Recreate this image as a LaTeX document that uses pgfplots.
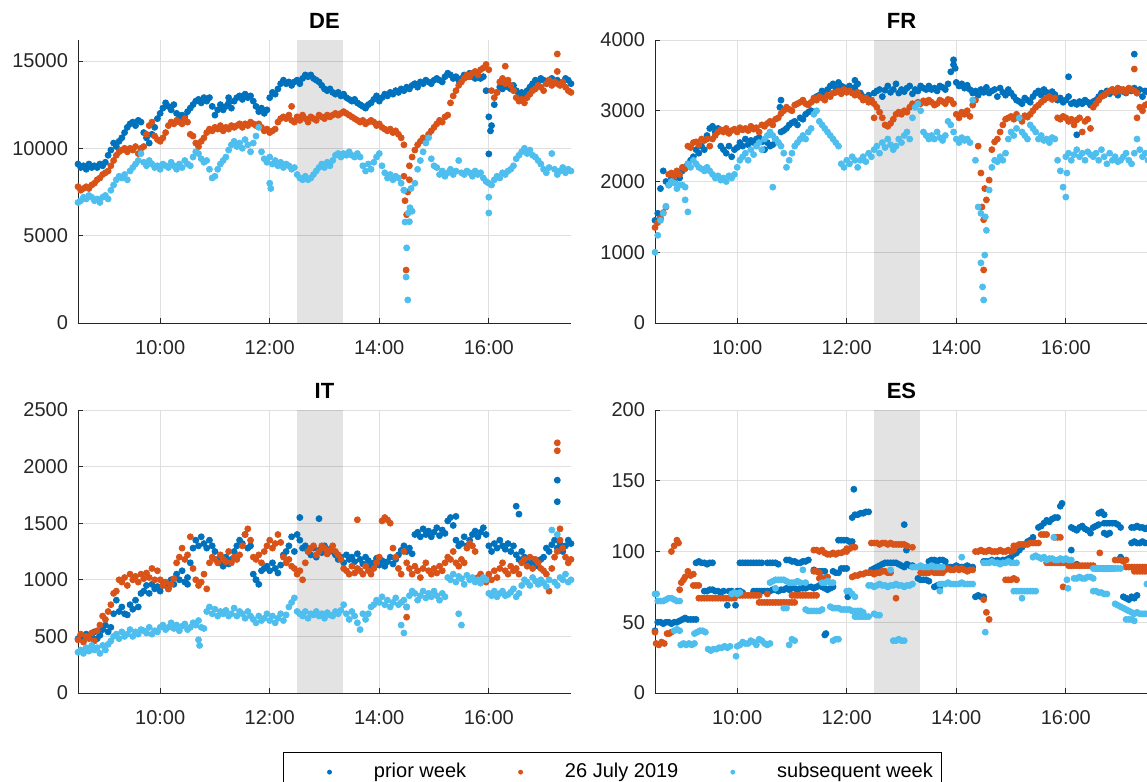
\documentclass[border=0pt]{standalone}
\usepackage{fontspec}
\setmainfont{Liberation Sans}
\usepackage{pgfplots}
\usepackage{pgfplotstable}
\pgfplotsset{compat=1.18}
\definecolor{c1}{RGB}{0,114,189}
\definecolor{c2}{RGB}{217,83,25}
\definecolor{c3}{RGB}{77,190,238}
\definecolor{axgray}{RGB}{38,38,38}
\definecolor{gridgray}{RGB}{223,223,223}
\pgfplotsset{
 panel/.style={
  scale only axis, width=246.5pt, height=141.5pt,
  xmin=8.5, xmax=17.5, ymin=0,
  xtick={10,12,14,16}, xticklabels={10:00,12:00,14:00,16:00},
  axis x line*=bottom, axis y line*=left,
  axis line style={-, draw=axgray, line width=0.4pt},
  tick align=inside, major tick length=2.5pt, tick style={axgray, line width=0.4pt},
  xmajorgrids, ymajorgrids, grid style={gridgray, line width=0.4pt},
  ticklabel style={font=\fontsize{10}{12}\selectfont, text=axgray},
  xticklabel style={yshift=-5pt},
  yticklabel style={xshift=-1.5pt},
  /pgf/number format/assume math mode=true,
  /pgf/number format/1000 sep={},
  scaled y ticks=false,
  title style={font=\bfseries\fontsize{11}{13}\selectfont, yshift=-4pt},
 },
 s1/.style={only marks, mark=*, mark size=1.5pt, color=c1, mark options={draw=none}},
 s2/.style={only marks, mark=*, mark size=1.5pt, color=c2, mark options={draw=none}},
 s3/.style={only marks, mark=*, mark size=1.5pt, color=c3, mark options={draw=none}},
 band/.style={draw=none, fill=black, fill opacity=0.11, forget plot},
}
\pgfplotstableread[header=false,row sep=\\]{
9100\\8900\\9000\\8800\\9100\\8900\\9000\\8900\\9100\\9000\\
9200\\9600\\9900\\10300\\10100\\10400\\10600\\10900\\11200\\11400\\
11500\\11300\\11600\\11500\\10900\\10600\\10300\\10800\\11200\\11700\\
12000\\12300\\12600\\12400\\12200\\12500\\12000\\11700\\11900\\11800\\
12100\\12300\\12500\\12700\\12800\\12600\\12900\\12700\\12900\\12400\\
11900\\12200\\12500\\12200\\12400\\12600\\12300\\12700\\12900\\13000\\
12800\\13100\\12900\\13000\\12700\\12400\\12100\\12300\\12000\\12200\\
12900\\13200\\13100\\13400\\13700\\13900\\13700\\13800\\13600\\13800\\
13900\\13700\\14000\\14200\\14100\\14200\\14000\\13900\\13800\\13600\\
13400\\13300\\13400\\13200\\13100\\13200\\13000\\13100\\12900\\12800\\
12700\\12800\\12600\\12500\\12400\\12300\\12500\\12600\\12800\\13000\\
12700\\12900\\13100\\13000\\13200\\13100\\13300\\13200\\13400\\13300\\
13500\\13400\\13600\\13700\\13500\\13800\\13700\\13900\\13800\\13700\\
13900\\14000\\13900\\13800\\14100\\14300\\14200\\14000\\14100\\13900\\
14000\\14200\\14100\\14300\\14100\\14000\\14200\\14000\\14100\\13300\\
11800\\11300\\12500\\13200\\13500\\13400\\13600\\13500\\13400\\13600\\
13300\\13100\\13200\\13000\\13300\\13500\\13700\\13900\\13800\\14000\\
13900\\13700\\13900\\14000\\13800\\13900\\13700\\13800\\14000\\13900\\13700\\
}\DEa
\pgfplotstableread[header=false,row sep=\\]{
7800\\7600\\7700\\7800\\7700\\7900\\8000\\8200\\8300\\8500\\
8600\\8700\\9000\\9300\\9600\\9800\\9900\\10000\\9800\\10000\\
9900\\10100\\9700\\10000\\10100\\10800\\11300\\11500\\10700\\10500\\
10400\\10600\\10900\\11300\\11500\\11400\\11600\\11500\\11400\\11700\\
11500\\10800\\10700\\10300\\10100\\10400\\10600\\10900\\11100\\11000\\
11200\\11100\\11300\\11000\\11200\\11100\\11300\\11200\\11300\\11400\\
11200\\11400\\11300\\11500\\11400\\11300\\11400\\11200\\11000\\11100\\
10900\\11000\\11100\\11500\\11700\\11800\\11700\\11900\\11600\\11500\\
11800\\11600\\11900\\11700\\11500\\11800\\11700\\11600\\11900\\11800\\
11700\\11900\\11800\\11900\\12000\\11900\\12000\\12100\\12000\\11900\\
11800\\11700\\11600\\11500\\11600\\11400\\11500\\11600\\11500\\11300\\
11400\\11200\\11100\\11000\\11100\\10900\\11000\\10800\\10600\\10200\\
6200\\8200\\9500\\9900\\10200\\10400\\10600\\10500\\10800\\11000\\
11200\\11400\\11600\\11500\\11800\\11900\\12600\\13000\\13300\\13600\\
13800\\14000\\14200\\14100\\14300\\14400\\14200\\14500\\14600\\14800\\
14500\\13300\\12900\\13200\\13800\\14000\\13700\\13900\\13600\\13300\\
12900\\12700\\12800\\12600\\12900\\13100\\13300\\13400\\13600\\13500\\
13300\\13700\\13900\\13600\\13800\\13700\\13600\\13800\\13500\\13300\\13200\\
}\DEb
\pgfplotstableread[header=false,row sep=\\]{
6900\\7000\\7200\\7100\\7300\\7200\\7000\\7100\\6900\\7200\\
7300\\7100\\7600\\7900\\8200\\8400\\8300\\8500\\8200\\8700\\
8900\\9100\\9300\\9700\\9200\\9000\\9300\\9100\\8900\\9000\\
8800\\9100\\9000\\8900\\9200\\9000\\8800\\9100\\8900\\9300\\
9100\\9000\\9500\\9800\\9700\\9400\\9200\\9300\\8800\\8300\\
8400\\8800\\9100\\9300\\9500\\9900\\10200\\10400\\10100\\10300\\
10000\\10500\\10200\\9800\\10300\\10700\\11200\\9800\\9400\\9200\\
9500\\9100\\9300\\9000\\9200\\8900\\9100\\9000\\8800\\8900\\
8500\\8300\\8200\\8400\\8200\\8300\\8500\\8700\\8900\\9100\\
8900\\9200\\9000\\9300\\9600\\9700\\9500\\9700\\9600\\9800\\
9600\\9500\\9700\\9500\\9000\\8700\\9100\\8800\\9200\\9500\\
9700\\9000\\8600\\8300\\8500\\8200\\8400\\8300\\8000\\7600\\
4300\\5800\\6400\\8000\\8800\\9300\\9800\\10300\\10600\\9400\\
9000\\8900\\8500\\8700\\8400\\8600\\8800\\8500\\8700\\9300\\
8600\\8500\\8700\\8600\\8400\\8700\\8500\\8600\\8300\\8100\\
8000\\7900\\8200\\8400\\8300\\8600\\8500\\8700\\8800\\9000\\
9400\\9600\\9800\\10000\\9700\\9900\\9600\\9500\\9300\\9100\\
8800\\8600\\8900\\9700\\8800\\8500\\8700\\8900\\8600\\8800\\8700\\
}\DEc
\pgfplotstableread[header=false,row sep=\\]{
1450\\1550\\1900\\2150\\2000\\1950\\2050\\2000\\2100\\2050\\
2150\\2200\\2250\\2300\\2350\\2450\\2400\\2500\\2450\\2650\\
2750\\2780\\2700\\2750\\2500\\2450\\2400\\2500\\2350\\2450\\
2480\\2550\\2500\\2600\\2520\\2580\\2550\\2600\\2620\\2560\\
2450\\2550\\2500\\2520\\2600\\2550\\2700\\2720\\2750\\2800\\
2830\\2850\\2800\\2900\\2880\\2950\\2980\\3000\\3150\\3200\\
3220\\3280\\3250\\3300\\3350\\3380\\3320\\3400\\3350\\3330\\
3300\\3350\\3280\\3330\\3380\\3250\\3200\\3180\\3220\\3150\\
3250\\3280\\3300\\3200\\3290\\3350\\3260\\3300\\3380\\3250\\
3300\\3270\\3320\\3350\\3240\\3300\\3280\\3350\\3320\\3300\\
3350\\3300\\3320\\3280\\3350\\3330\\3300\\3380\\3550\\3650\\
3400\\3350\\3380\\3320\\3360\\3300\\3250\\3280\\3220\\3300\\
3260\\3330\\3250\\3280\\3300\\3200\\3320\\3260\\3220\\3300\\
3250\\3200\\3150\\3130\\3100\\3180\\3150\\3120\\3200\\3250\\
3280\\3220\\3300\\3260\\3200\\3270\\3230\\3150\\3180\\3120\\
3150\\3200\\3100\\3120\\3090\\3130\\3100\\3150\\3120\\3080\\
3130\\3150\\3200\\3250\\3220\\3280\\3240\\3300\\3260\\3220\\
3300\\3270\\3250\\3300\\3280\\3320\\3250\\3300\\3200\\3280\\3260\\
}\FRa
\pgfplotstableread[header=false,row sep=\\]{
1350\\1420\\1480\\1560\\1640\\2100\\2120\\2080\\2150\\2100\\
2200\\2180\\2500\\2480\\2550\\2560\\2520\\2600\\2580\\2600\\
2500\\2600\\2650\\2700\\2730\\2700\\2750\\2680\\2720\\2740\\
2700\\2760\\2730\\2750\\2720\\2780\\2740\\2760\\2700\\2800\\
2780\\2820\\2850\\2800\\2880\\2900\\2960\\3000\\3050\\3020\\
3000\\3080\\3100\\3120\\3150\\3100\\3080\\3120\\3180\\3150\\
3200\\3180\\3150\\3220\\3200\\3250\\3260\\3280\\3240\\3300\\
3260\\3280\\3250\\3220\\3260\\3200\\3150\\3180\\3120\\3150\\
3100\\3050\\2980\\2900\\2800\\2780\\2820\\2880\\2950\\2980\\
2950\\3000\\2980\\3050\\3100\\3080\\3120\\3100\\3140\\3110\\
3150\\3120\\3080\\3100\\3150\\3130\\3100\\3160\\3150\\3100\\
2950\\2900\\2980\\2950\\3000\\2920\\3080\\3150\\2500\\2120\\
1460\\1740\\2020\\2450\\2560\\2600\\2700\\2800\\2880\\2900\\
2920\\2880\\2950\\2900\\2850\\2930\\2910\\2950\\3000\\3050\\
3080\\3120\\3150\\3180\\3200\\3160\\3180\\2900\\2880\\2920\\
2900\\2850\\2880\\2800\\2870\\2900\\2700\\2850\\2880\\2750\\
3050\\3100\\3150\\3200\\3220\\3250\\3280\\3300\\3260\\3320\\
3280\\3300\\3260\\3320\\3300\\3280\\3250\\3050\\3000\\3080\\3100\\
}\FRb
\pgfplotstableread[header=false,row sep=\\]{
1000\\1240\\1450\\1550\\1650\\1950\\2000\\1980\\1900\\1950\\
1950\\1920\\2250\\2200\\2300\\2250\\2200\\2180\\2150\\2200\\
2150\\2100\\2050\\2080\\2020\\2050\\2000\\2080\\2050\\2100\\
2200\\2300\\2350\\2400\\2300\\2450\\2380\\2500\\2550\\2450\\
2600\\2650\\2700\\2650\\2600\\2550\\2500\\2400\\2200\\2300\\
2400\\2500\\2550\\2600\\2650\\2600\\2700\\2750\\2950\\3000\\
2850\\2800\\2750\\2700\\2650\\2600\\2550\\2500\\2250\\2200\\
2300\\2250\\2350\\2300\\2200\\2300\\2350\\2280\\2400\\2350\\
2450\\2500\\2400\\2550\\2480\\2600\\2520\\2450\\2500\\2600\\
2550\\2650\\2700\\2600\\2900\\3050\\3100\\3000\\2700\\2650\\
2600\\2650\\2600\\2700\\2620\\2580\\2650\\2850\\2800\\2700\\
2600\\2550\\2620\\2580\\2600\\2550\\3150\\2300\\1640\\850\\
325\\1310\\1880\\2200\\2300\\2280\\2350\\2300\\2400\\2600\\
2700\\2650\\2750\\2900\\2700\\2650\\2600\\2800\\2750\\2700\\
2600\\2650\\2580\\2600\\2550\\2620\\2600\\2300\\2150\\1920\\
2350\\2400\\2300\\2380\\2450\\2350\\2400\\2300\\2420\\2380\\
2350\\2400\\2300\\2450\\2350\\2250\\2400\\2300\\2350\\2280\\
2300\\2350\\2400\\2300\\2250\\2400\\2600\\2450\\2350\\2400\\2300\\
}\FRc
\pgfplotstableread[header=false,row sep=\\]{
480\\510\\470\\520\\490\\500\\540\\480\\510\\560\\
600\\540\\580\\700\\820\\720\\760\\700\\690\\780\\
740\\820\\760\\880\\900\\950\\880\\960\\920\\940\\
900\\980\\950\\920\\1000\\960\\1050\\1000\\1080\\980\\
1020\\1150\\1280\\1350\\1300\\1380\\1320\\1280\\1350\\1300\\
1250\\1180\\1150\\1120\\1200\\1140\\1180\\1250\\1300\\1350\\
1320\\1400\\1280\\1300\\1050\\1000\\960\\1080\\1100\\1120\\
1080\\1150\\1100\\1060\\1130\\1220\\1250\\1300\\1380\\1250\\
1400\\1350\\1280\\1300\\1250\\1220\\1280\\1200\\1260\\1240\\
1300\\1230\\1270\\1250\\1220\\1180\\1200\\1150\\1220\\1180\\
1200\\1160\\1230\\1180\\1140\\1200\\1170\\1120\\1150\\1190\\
1130\\1170\\1120\\1160\\1200\\1140\\1180\\1220\\1260\\1300\\
1250\\1280\\1230\\1400\\1420\\1380\\1450\\1400\\1430\\1380\\
1420\\1460\\1390\\1440\\1410\\1520\\1550\\1480\\1350\\1300\\
1320\\1380\\1300\\1350\\1400\\1430\\1380\\1420\\1460\\1400\\
1300\\1250\\1320\\1280\\1350\\1300\\1270\\1320\\1250\\1300\\
1220\\1180\\1250\\1200\\1150\\1130\\1180\\1150\\1120\\1180\\
1200\\1280\\1250\\1310\\1350\\1280\\1320\\1250\\1300\\1350\\1320\\
}\ITa
\pgfplotstableread[header=false,row sep=\\]{
470\\520\\450\\500\\480\\530\\460\\550\\600\\680\\
650\\720\\780\\880\\900\\1000\\980\\1020\\950\\1050\\
1000\\1030\\980\\1050\\1010\\1060\\1020\\1100\\1000\\1080\\
1000\\950\\980\\920\\960\\1010\\1150\\1200\\1280\\1180\\
1220\\1380\\1100\\1000\\950\\980\\1050\\920\\1150\\1200\\
1180\\1150\\1220\\1180\\1160\\1250\\1150\\1200\\1180\\1220\\
1300\\1400\\1450\\1350\\1200\\1180\\1220\\1150\\1250\\1300\\
1350\\1280\\1320\\1400\\1330\\1200\\1150\\1180\\1120\\1100\\
1050\\1080\\1000\\1150\\1250\\1280\\1300\\1220\\1250\\1300\\
1280\\1230\\1260\\1300\\1250\\1220\\1180\\1100\\1080\\1050\\
1120\\1060\\1100\\1080\\1050\\1120\\1080\\1050\\1100\\1150\\
1200\\1520\\1550\\1530\\1500\\1280\\1200\\1100\\1050\\1250\\
1150\\1100\\1050\\1120\\1080\\1020\\1100\\1150\\1080\\1050\\
1100\\1060\\1120\\1080\\1150\\1200\\1180\\1250\\1150\\1120\\
1180\\1150\\1280\\1320\\1300\\1250\\1020\\1050\\1000\\980\\
1050\\1000\\1080\\1020\\1100\\1150\\1080\\1050\\1120\\1080\\
1100\\1050\\1150\\1180\\1120\\1200\\1100\\1180\\1150\\1100\\
1080\\1050\\900\\1100\\1200\\1250\\1350\\1280\\1200\\1150\\1180\\
}\ITb
\pgfplotstableread[header=false,row sep=\\]{
360\\380\\350\\400\\370\\420\\380\\400\\350\\420\\
380\\430\\460\\500\\520\\480\\540\\500\\520\\560\\
500\\540\\520\\560\\550\\530\\580\\520\\550\\540\\
580\\600\\560\\580\\620\\570\\600\\550\\590\\610\\
560\\580\\620\\600\\640\\580\\570\\720\\760\\700\\
740\\680\\720\\700\\730\\680\\700\\750\\680\\720\\
700\\660\\720\\680\\650\\620\\680\\640\\660\\700\\
640\\680\\620\\660\\700\\640\\690\\760\\800\\840\\
720\\700\\680\\720\\660\\700\\690\\720\\680\\700\\
660\\710\\690\\680\\720\\700\\730\\780\\700\\650\\
720\\680\\620\\560\\700\\650\\700\\760\\780\\820\\
800\\850\\780\\820\\760\\800\\840\\780\\800\\820\\
760\\860\\900\\880\\820\\860\\900\\840\\880\\850\\
900\\860\\820\\880\\850\\1020\\1000\\1050\\980\\1030\\
1010\\960\\1040\\1000\\1020\\980\\1000\\970\\1020\\1000\\
880\\860\\900\\850\\880\\900\\860\\870\\890\\920\\
850\\880\\950\\1000\\980\\950\\1020\\990\\960\\1000\\
970\\940\\1000\\1440\\980\\950\\1020\\1000\\1050\\980\\1000\\
}\ITc
\begin{document}
\begin{tikzpicture}
\useasboundingbox (0,0) rectangle (573.5pt,391pt);
% ---------------- DE
\begin{axis}[panel, at={(39pt,229.5pt)}, anchor=south west, ymax=16200, ytick={0,5000,10000,15000}, title={DE}]
\addplot[s1] table[x expr=8.5+0.05*\coordindex, y index=0]{\DEa};
\addplot[s1,forget plot] coordinates {(17.25,16250)(16,9680)(16.03,11000)(11.25,12900)};
\addplot[s2] table[x expr=8.5+0.05*\coordindex, y index=0]{\DEb};
\addplot[s2,forget plot] coordinates {(14.45,8400)(14.47,7000)(14.49,3030)(14.52,7500)(14.55,9000)(17.25,15400)(17.25,14400)(16.3,14700)(12.4,12400)};
\addplot[s3] table[x expr=8.5+0.05*\coordindex, y index=0]{\DEc};
\addplot[s3,forget plot] coordinates {(14.45,7600)(14.47,5780)(14.49,2630)(14.52,1320)(14.53,6300)(14.56,6600)(14.58,7700)(16,7200)(16,6300)(12,8000)(12.02,7700)};
\addplot[band] coordinates {(12.5,16200)(13.3333,16200)} \closedcycle;
\end{axis}
% ---------------- FR
\begin{axis}[panel, at={(327.5pt,229.5pt)}, anchor=south west, ymax=4000, ytick={0,1000,2000,3000,4000}, title={FR}]
\addplot[s1] table[x expr=8.5+0.05*\coordindex, y index=0]{\FRa};
\addplot[s1,forget plot] coordinates {(10.8,3150)(10.78,3050)(12.15,3430)(13.95,3720)(13.98,3600)(16.2,2660)(16.05,3480)(17.25,3800)};
\addplot[s2] table[x expr=8.5+0.05*\coordindex, y index=0]{\FRb};
\addplot[s2,forget plot] coordinates {(14.47,1640)(14.5,750)(14.52,1900)(12.5,2900)(17.25,3590)(17.3,2900)};
\addplot[s3] table[x expr=8.5+0.05*\coordindex, y index=0]{\FRc};
\addplot[s3,forget plot] coordinates {(14.45,1550)(14.48,510)(14.52,960)(14.53,1500)(16,1780)(16.02,2120)(9.05,1740)(9.1,1570)(10.65,1920)};
\addplot[band] coordinates {(12.5,4000)(13.3333,4000)} \closedcycle;
\end{axis}
% ---------------- IT
\begin{axis}[panel, at={(39pt,44.5pt)}, anchor=south west, ymax=2500, ytick={0,500,1000,1500,2000,2500}, title={IT}]
\addplot[s1] table[x expr=8.5+0.05*\coordindex, y index=0]{\ITa};
\addplot[s1,forget plot] coordinates {(12.55,1550)(12.9,1540)(15.4,1560)(16.5,1650)(16.55,1580)(17.25,1880)(17.25,1690)(11.75,1000)(10.5,960)};
\addplot[s2] table[x expr=8.5+0.05*\coordindex, y index=0]{\ITb};
\addplot[s2,forget plot] coordinates {(17.25,2210)(17.25,2140)(13.6,1530)(14.5,670)(14.5,760)(17.3,1450)};
\addplot[s3] table[x expr=8.5+0.05*\coordindex, y index=0]{\ITc};
\addplot[s3,forget plot] coordinates {(10.7,470)(10.72,420)(14.45,530)(14.4,600)(15.5,600)(15.45,700)(17.25,1400)};
\addplot[band] coordinates {(12.5,2500)(13.3333,2500)} \closedcycle;
\end{axis}
% ---------------- ES
\begin{axis}[panel, at={(327.5pt,44.5pt)}, anchor=south west, ymax=200, ytick={0,50,100,150,200}, title={ES},
  legend columns=3,
  legend style={at={(-0.0862,-0.2085)}, anchor=north, draw=black, line width=0.4pt, fill=white,
    inner xsep=2.5pt, inner ysep=3.5pt, font=\fontsize{10}{12}\selectfont,
    /tikz/every even column/.append style={column sep=4.5pt}},
  legend cell align=left,
  legend image code/.code={\path (-20.5pt,0pt) (20pt,0pt); \fill (0pt,0pt) circle (1pt);}]
\addplot[s1] coordinates {(8.5,44)
(8.55,50)(8.6,50)(8.65,49)(8.7,50)(8.75,50)(8.8,49)(8.85,50)(8.9,50)(8.95,51)(9,52)(9.05,53)(9.1,52)(9.15,52)(9.2,52)(9.25,52)
(9.25,92)(9.3,93)(9.35,92)(9.4,92)(9.45,91)(9.5,92)(9.55,92)
(9.4,72)(9.45,72)(9.5,73)(9.55,73)(9.6,72)(9.65,72)(9.7,71)(9.75,72)(9.85,72)(9.9,72)(9.95,71)(10,72)(10.05,72)(10.1,71)(10.3,72)(10.35,72)(10.4,72)(10.45,72)(10.5,72)(10.55,72)(10.6,72)(10.65,73)(10.7,73)(10.75,72)(10.8,73)(10.85,73)(10.9,74)(10.95,73)(11,74)(11.05,74)(11.1,73)(11.15,74)(11.2,74)(11.25,74)(11.3,75)(11.35,75)(11.4,74)
(9.82,62)(9.97,62)
(10.05,92)(10.1,92)(10.15,92)(10.2,92)(10.25,92)(10.3,92)(10.35,92)(10.4,92)(10.45,92)
(10.55,92)(10.6,92)(10.65,92)(10.7,92)(10.75,91)
(10.9,94)(10.95,94)(11,93)(11.05,93)(11.1,92)(11.15,92)(11.2,93)(11.25,93)(11.3,94)
(11.4,87)(11.45,86)(11.5,86)(11.55,86)(11.6,86)
(11.45,75)(11.5,76)(11.55,75)(11.6,74)(11.65,73)(11.7,74)(11.75,75)
(11.6,41)(11.62,42)
(11.75,86)(11.8,85)(11.85,85)(11.9,88)(11.95,88)(12,88)
(11.85,108)(11.9,108)(11.95,108)(12,108)(12.05,107)(12.1,107)
(12.02,68)(12.04,72)
(12.1,124)(12.15,126)(12.2,126)(12.25,127)(12.3,127)(12.35,128)(12.4,128)
(12.13,144)
(12.45,87)(12.5,88)(12.55,89)(12.6,90)(12.65,91)(12.7,92)(12.75,92)(12.8,92)(12.85,92)(12.9,92)(12.95,91)(13,90)(13.05,89)
(13.05,119)(13.09,101)
(13.1,91)(13.15,90)(13.2,90)
(13.3,81)(13.35,80)(13.4,80)(13.45,80)(13.5,79)
(13.5,93)(13.55,94)(13.6,94)(13.65,93)(13.7,94)(13.75,94)(13.8,93)
(13.6,75)(13.65,76)(13.7,75)
(13.85,89)(13.9,89)(13.95,89)(14,90)(14.05,89)(14.1,89)(14.15,89)(14.2,90)(14.25,89)(14.3,89)
(14.35,68)(14.4,69)(14.45,68)(14.5,68)
(14.5,93)(14.55,93)(14.6,93)(14.65,94)(14.7,93)(14.75,94)(14.8,93)(14.85,94)(14.9,94)(14.95,95)(15,96)(15.05,98)(15.1,99)(15.15,101)(15.2,103)(15.25,105)(15.3,107)(15.35,108)(15.4,110)
(15.5,117)(15.55,118)(15.6,120)(15.65,122)(15.7,121)(15.75,123)(15.8,124)(15.85,124)
(15.9,132)(15.93,134)
(16.1,101)(16.2,91)
(16.1,117)(16.15,116)(16.2,115)(16.25,117)(16.3,118)(16.35,116)(16.4,115)(16.5,117)(16.55,118)(16.6,119)
(16.45,113)
(16.6,127)(16.65,128)(16.7,126)
(16.7,120)(16.75,120)(16.8,120)(16.85,120)(16.9,120)(16.95,119)(17,117)
(16.7,113)(16.75,112)(16.8,113)
(17,96)
(17.05,68)(17.1,67)(17.15,66)(17.2,68)(17.25,67)(17.3,69)
(17.2,117)(17.25,117)(17.3,118)(17.35,117)(17.4,117)(17.45,116)(17.5,117)
(17.2,106)(17.25,107)(17.3,106)(17.35,106)(17.4,107)(17.45,106)(17.5,106)};
\addlegendentry{prior week}
\addplot[s2] coordinates {(8.5,43)(8.52,35)(8.57,34)(8.62,36)(8.67,35)(8.72,42)(8.76,42)(8.8,43)
(8.8,100)(8.85,104)(8.9,108)(8.93,106)
(8.95,73)(8.98,78)(9.02,80)(9.05,82)(9.1,86)(9.15,83)(9.2,84)
(9.2,76)(9.25,76)(9.3,76)
(9.3,67)(9.35,67)(9.4,67)(9.45,67)(9.5,67)(9.55,67)(9.6,67)(9.65,67)(9.7,67)(9.75,67)(9.8,67)(9.85,67)(9.9,67)(9.95,67)
(10,69)(10.05,69)(10.1,69)(10.15,69)(10.2,69)(10.25,69)(10.3,69)(10.35,69)(10.4,69)
(10.4,64)(10.45,64)(10.5,64)(10.55,64)(10.6,64)(10.65,64)(10.7,64)(10.75,64)(10.8,64)(10.85,64)(10.9,64)(10.95,64)(11,64)(11.05,64)
(10.55,70)
(11,69)(11.05,69)(11.1,69)(11.15,69)(11.2,69)(11.25,69)(11.3,69)(11.35,69)(11.4,69)(11.45,69)
(11.4,86)(11.45,86)(11.5,85)
(11.5,81)(11.55,81)(11.6,81)(11.65,82)
(11.4,101)(11.45,101)(11.5,100)(11.55,101)(11.6,99)(11.65,98)(11.7,98)(11.75,99)(11.8,98)(11.85,99)(11.9,99)(11.95,100)(12,100)
(12,102)(12.05,102)(12.1,103)(12.15,103)
(12.1,82)(12.15,83)(12.2,83)(12.25,84)(12.3,84)(12.35,85)(12.4,85)(12.45,85)(12.5,84)(12.55,85)(12.6,85)(12.65,86)(12.7,86)(12.75,85)(12.8,85)
(12.45,106)(12.5,106)(12.55,106)(12.6,105)(12.65,106)(12.7,106)(12.75,105)(12.8,106)(12.85,105)(12.9,105)(12.95,105)(13,105)(13.05,105)(13.1,104)(13.2,103)
(12.9,67)
(13.35,85)(13.4,85)(13.45,85)(13.5,85)(13.55,86)(13.6,85)(13.65,85)(13.7,85)(13.75,85)
(13.8,87)(13.85,88)(13.9,87)(13.95,87)(14,88)(14.05,87)(14.1,88)(14.15,87)(14.2,86)(14.25,87)(14.3,87)
(14.35,100)(14.4,100)(14.45,101)(14.5,100)(14.55,100)(14.6,101)(14.65,100)(14.7,100)(14.75,100)(14.8,101)(14.85,100)(14.9,100)(14.95,101)(15,100)(15.05,101)
(14.9,80)(14.95,80)(15,80)(15.05,81)(15.1,80)
(14.5,66)(14.55,57)(14.6,52)
(15.05,104)(15.1,104)(15.15,105)(15.2,105)(15.25,105)(15.3,105)(15.35,106)(15.4,106)(15.45,106)(15.5,106)
(15.55,112)(15.6,112)(15.65,112)
(15.8,110)(15.85,110)(15.9,110)
(15.65,92)(15.7,92)(15.75,92)(15.8,92)(15.85,92)(15.9,92)(15.95,92)(16,92)
(16.05,90)(16.1,90)(16.15,90)(16.2,90)(16.25,90)(16.3,90)(16.35,90)(16.4,90)(16.45,90)(16.5,90)
(15.95,75)(16.62,99)
(16.55,88)(16.6,88)(16.65,88)(16.7,88)(16.75,88)(16.8,88)(16.85,88)
(16.9,94)(16.95,94)(17,94)(17.05,93)(17.1,94)
(17.1,89)(17.15,89)(17.2,89)(17.25,89)(17.3,89)(17.35,89)(17.4,89)(17.45,89)(17.5,89)
(17.25,86)(17.3,86)(17.35,86)(17.4,86)(17.45,86)(17.5,86)};
\addlegendentry{26 July 2019}
\addplot[s3] coordinates {(8.5,70)(8.53,70)
(8.55,65)(8.6,65)(8.65,65)(8.7,66)(8.75,67)(8.8,67)(8.85,66)(8.9,65)(8.95,65)
(8.85,44)(8.9,45)(8.95,44)
(8.97,34)(9.02,35)(9.07,34)(9.12,35)(9.17,34)(9.22,35)
(9.22,42)(9.27,43)(9.32,44)(9.37,44)(9.42,43)
(9.47,31)(9.52,30)(9.57,31)(9.62,31)(9.67,32)(9.72,32)(9.77,33)(9.82,32)(9.87,33)
(9.9,70)(9.95,71)(10,70)(10.05,71)
(9.98,26)
(10,33)(10.05,34)(10.1,36)(10.15,35)(10.2,35)(10.25,37)(10.3,36)(10.35,34)(10.4,38)(10.45,37)(10.5,35)(10.55,34)(10.6,35)
(10.95,34)(11,38)(11.05,37)
(10.6,78)(10.65,79)(10.7,80)(10.75,80)(10.8,80)(10.85,80)(10.9,79)(10.95,78)(11,78)
(10.7,74)(10.85,60)(10.9,60)
(11.05,78)(11.1,79)(11.15,78)(11.2,87)(11.25,78)
(11.25,59)(11.3,58)(11.35,58)(11.4,58)(11.45,58)(11.5,58)(11.55,59)
(11.55,78)(11.6,78)(11.65,79)(11.7,78)(11.75,78)
(11.75,37)(11.8,38)(11.85,38)
(11.7,61)(11.75,60)(11.8,60)(11.85,60)(11.9,59)(11.95,59)(12,59)(12.05,59)(12.1,58)(12.15,58)(12.2,58)(12.25,58)(12.3,57)
(12.15,54)(12.2,54)(12.25,54)(12.3,54)(12.35,54)(12.4,54)
(12,72)(12.05,72)(12.1,70)(12.15,68)
(12.4,76)(12.45,76)(12.5,75)(12.55,76)(12.6,77)(12.65,76)(12.7,76)(12.75,75)(12.8,76)(12.85,76)(12.9,77)(12.95,76)(13,76)(13.05,75)(13.1,76)(13.15,76)(13.2,77)
(12.5,56)(12.55,55)(12.6,55)
(12.85,37)(12.9,37)(12.95,38)(13,37)(13.05,37)
(12.8,87)
(13.2,89)(13.25,89)(13.3,89)(13.35,90)(13.4,89)(13.45,89)(13.5,89)(13.55,90)(13.6,89)(13.65,89)(13.7,89)(13.75,89)
(13.7,77)(13.75,77)(13.8,77)(13.85,78)(13.9,77)(13.95,77)(14,77)(14.05,77)(14.1,78)(14.15,77)(14.2,77)(14.25,77)(14.3,77)
(13.7,72)(14.1,96)(14.53,43)
(14.5,92)(14.55,92)(14.6,92)(14.65,93)(14.7,92)(14.75,92)(14.8,91)(14.85,92)(14.9,92)(14.95,93)(15,92)(15.05,92)(15.1,92)
(15.05,72)(15.1,72)(15.15,72)(15.2,72)(15.25,72)(15.3,72)(15.35,72)(15.4,72)(15.45,72)
(15.2,67)
(15.4,96)(15.45,97)(15.5,96)(15.55,95)(15.6,96)(15.65,94)(15.7,95)(15.75,95)(15.8,94)(15.85,94)(15.9,95)(15.95,94)(16,95)(16.05,94)(16.1,94)
(15.78,110)(16.02,80)(16.04,74)
(16.15,81)(16.2,81)(16.25,82)(16.3,81)(16.35,81)(16.4,82)(16.45,82)(16.5,81)
(16.5,88)(16.55,88)(16.6,88)(16.65,88)(16.7,88)(16.75,88)(16.8,88)(16.85,88)(16.9,88)(16.95,88)(17,88)
(16.5,72)(16.55,72)(16.6,71)(16.65,71)(16.7,70)(16.75,70)
(16.9,63)(16.95,62)(17,61)(17.05,60)(17.1,59)(17.15,58)(17.2,57)(17.25,56)(17.3,57)(17.35,56)
(17.1,52)(17.15,52)(17.2,52)(17.25,51)
(17.4,56)(17.45,56)(17.5,56)
(17.48,77)};
\addlegendentry{subsequent week}
\addplot[band] coordinates {(12.5,200)(13.3333,200)} \closedcycle;
\end{axis}
\end{tikzpicture}
\end{document}
